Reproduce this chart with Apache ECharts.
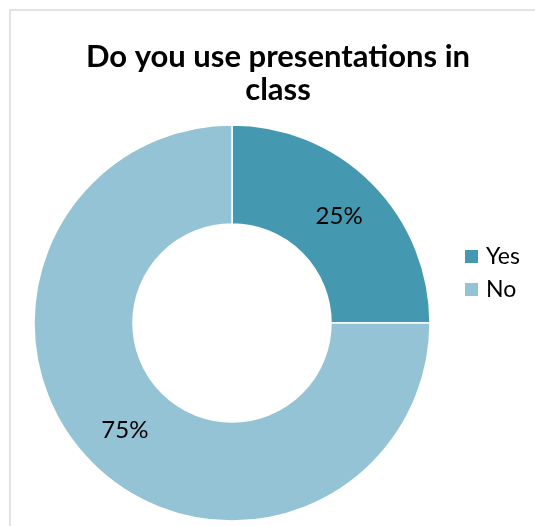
<!DOCTYPE html>
<html>
<head>
<meta charset="utf-8">
<script src="https://cdn.jsdelivr.net/npm/echarts@6/dist/echarts.min.js"></script>
<style>
  html, body { margin: 0; padding: 0; background: #fff; }
  #chart { width: 535px; height: 526px; }
</style>
</head>
<body>
<div id="chart"></div>
<script>
// Survey answers and their shares (%)
const categories = ['Yes', 'No'];
const shares = [25, 75];
const sliceColors = ['#4499b1', '#93c3d5'];
const chartTitle = 'Do you use presentations in\nclass';

const chart = echarts.init(document.getElementById('chart'), null, { renderer: 'canvas' });

chart.setOption({
  backgroundColor: '#ffffff',
  animation: false,
  title: {
    text: chartTitle,
    left: 273,
    top: 35,
    textAlign: 'center',
    textStyle: {
      fontFamily: 'Lato',
      fontWeight: 'bold',
      fontSize: 31,
      lineHeight: 33,
      color: '#000000'
    }
  },
  legend: {
    orient: 'vertical',
    left: 458,
    top: 240,
    itemWidth: 15,
    itemHeight: 15,
    itemGap: 10,
    icon: 'rect',
    data: categories,
    textStyle: {
      fontFamily: 'Lato',
      fontSize: 23,
      color: '#000000',
      padding: [0, 0, 0, 2]
    }
  },
  graphic: [{
    type: 'rect',
    shape: { x: 10, y: 10, width: 600, height: 600 },
    style: { fill: 'none', stroke: '#d9d9d9', lineWidth: 1.5 },
    silent: true,
    z: -1
  }],
  series: [{
    type: 'pie',
    center: [232, 323],
    radius: [99, 198],
    startAngle: 90,
    clockwise: true,
    avoidLabelOverlap: false,
    itemStyle: { borderColor: '#ffffff', borderWidth: 1.5 },
    label: {
      show: true,
      position: 'inside',
      formatter: '{c}%',
      fontFamily: 'Lato',
      fontSize: 24,
      color: '#000000'
    },
    labelLine: { show: false },
    emphasis: { disabled: true },
    data: categories.map((name, i) => ({
      name: name,
      value: shares[i],
      itemStyle: { color: sliceColors[i] }
    }))
  }]
});
</script>
</body>
</html>
